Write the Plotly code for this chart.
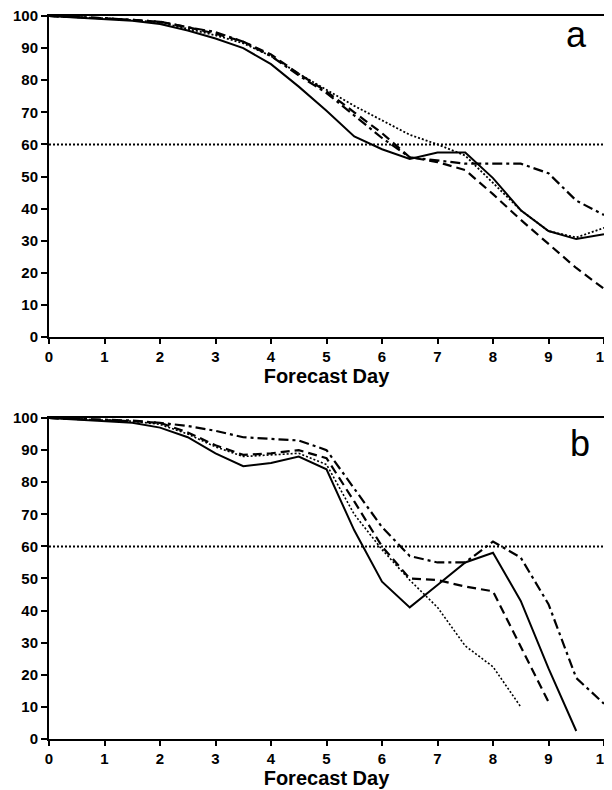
import plotly.graph_objects as go

days = [0, 0.5, 1, 1.5, 2, 2.5, 3, 3.5, 4, 4.5, 5, 5.5, 6, 6.5, 7, 7.5, 8, 8.5, 9, 9.5, 10]

# Panel a
a_solid   = [100, 99.5, 99, 98.5, 97.5, 95.5, 93, 90, 85, 78, 70.5, 62.5, 58.5, 55.5, 57.5, 57.5, 49.5, 39.5, 33, 30.5, 32]
a_dashed  = [100, 99.7, 99.3, 98.8, 98.2, 96.5, 94.5, 92, 88, 82, 76.5, 70, 63.5, 56, 54.5, 52, 44.5, 36.5, 29, 21.5, 15]
a_dotted  = [100, 99.7, 99.3, 98.7, 98, 96, 94, 91.5, 87.5, 82, 77, 72, 67.5, 63, 60, 56.5, 48, 39.5, 33, 31, 34]
a_dashdot = [100, 99.7, 99.3, 98.8, 98.2, 96.5, 95, 92, 87.5, 81.5, 76, 69, 62, 56, 55, 54, 54, 54, 51, 42.5, 38]

# Panel b
b_days_solid = days[:20]
b_solid   = [100, 99.5, 99, 98.5, 97, 94, 89, 85, 86, 88, 84, 65, 49, 41, 48, 55, 58, 43, 22, 2.5]
b_days_dashed = days[:19]
b_dashed  = [100, 99.7, 99.4, 99, 98.5, 95.5, 91.5, 88.5, 89, 90, 87.5, 74, 60, 50, 49.5, 47.5, 46, 29, 11.5]
b_days_dotted = days[:18]
b_dotted  = [100, 99.7, 99.4, 99, 98, 95, 91, 88, 88.5, 89, 85.5, 70, 59, 49.5, 41, 29, 22.5, 10]
b_dashdot = [100, 99.8, 99.5, 99.2, 98.5, 97.5, 96, 94, 93.5, 93, 90, 78, 66, 57, 55, 55, 61.5, 56.5, 42, 19, 11]

ref_days = [0, 10]
ref_val = [60, 60]

DOT = "2px,2px"
DASH = "9px,5px"
DASHDOT = "10px,4px,3px,4px"

fig = go.Figure()

def add(x, y, dash, xa, ya, width=2):
    fig.add_trace(go.Scatter(x=x, y=y, mode="lines", xaxis=xa, yaxis=ya,
                             line=dict(color="black", width=width, dash=dash),
                             showlegend=False, hoverinfo="skip"))

# panel a
add(ref_days, ref_val, DOT, "x", "y", 2)
add(days, a_dotted, DOT, "x", "y", 1.8)
add(days, a_dashed, DASH, "x", "y", 2.2)
add(days, a_dashdot, DASHDOT, "x", "y", 2.2)
add(days, a_solid, "solid", "x", "y", 2)

# panel b
add(ref_days, ref_val, DOT, "x2", "y2", 2)
add(b_days_dotted, b_dotted, DOT, "x2", "y2", 1.6)
add(b_days_dashed, b_dashed, DASH, "x2", "y2", 2.2)
add(days, b_dashdot, DASHDOT, "x2", "y2", 2.2)
add(b_days_solid, b_solid, "solid", "x2", "y2", 2)

FONT = "Liberation Sans, Arial, Helvetica, sans-serif"
tickfont = dict(family=FONT, size=15, color="black")
titlefont = dict(family=FONT, size=20, color="black")

xcommon = dict(range=[0, 10], tickmode="array", tickvals=list(range(11)),
               ticktext=[f"<b>{i}</b>" for i in range(11)],
               ticks="outside", ticklen=5, tickwidth=1.5, tickcolor="black",
               showline=True, linecolor="black", linewidth=2, mirror=True,
               showgrid=False, zeroline=False, tickfont=tickfont,
               ticklabeloverflow="allow")
ycommon = dict(range=[0, 100], tickmode="array", tickvals=list(range(0, 101, 10)),
               ticktext=[f"<b>{v}</b>" for v in range(0, 101, 10)],
               ticks="outside", ticklen=6, tickwidth=1.5, tickcolor="black",
               showline=True, linecolor="black", linewidth=2, mirror=True,
               showgrid=False, zeroline=False, tickfont=tickfont,
               ticklabeloverflow="allow")

fig.update_layout(
    width=612, height=790,
    margin=dict(l=41, r=16, t=8, b=59, autoexpand=False),
    paper_bgcolor="white", plot_bgcolor="white",
    xaxis=dict(**xcommon, anchor="y",
               title=dict(text="<b>Forecast Day</b>", font=titlefont, standoff=0)),
    yaxis=dict(**ycommon, anchor="x", domain=[0.556, 1.0]),
    xaxis2=dict(**xcommon, anchor="y2",
                title=dict(text="<b>Forecast Day</b>", font=titlefont, standoff=0)),
    yaxis2=dict(**ycommon, anchor="x2", domain=[0.0, 0.444]),
    annotations=[
        dict(text="a", x=0.950, y=0.975, xref="paper", yref="paper", xanchor="center", yanchor="middle",
             showarrow=False, font=dict(family=FONT, size=36, color="black")),
        dict(text="b", x=0.957, y=0.409, xref="paper", yref="paper", xanchor="center", yanchor="middle",
             showarrow=False, font=dict(family=FONT, size=36, color="black")),
    ],
)

fig.write_html("out.html")
